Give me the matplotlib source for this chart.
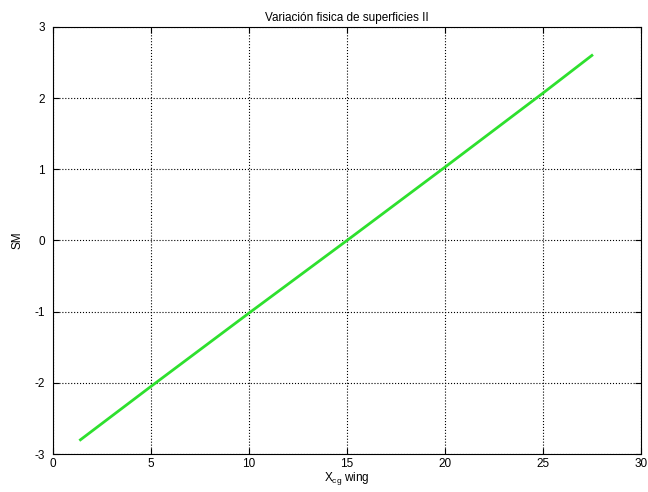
import numpy as np
import matplotlib
matplotlib.use('Agg')
import matplotlib.pyplot as plt

# valores
x_cg = [1.4, 5, 10, 15, 20, 25, 27.5]
sm = [-2.8, -2.05, -1.02, 0.0, 1.03, 2.07, 2.6]

plt.rcParams['font.family'] = ['Liberation Sans', 'DejaVu Sans']
plt.rcParams['font.size'] = 8.5
plt.rcParams['axes.unicode_minus'] = False
plt.rcParams['mathtext.fontset'] = 'custom'
plt.rcParams['mathtext.rm'] = 'Liberation Sans'

fig = plt.figure(figsize=(6.48, 4.92), dpi=100)
ax = fig.add_axes([0.0818, 0.0772, 0.9072, 0.868])

ax.plot(x_cg, sm, color='#2ee02e', linewidth=2)

ax.set_xlim(0, 30)
ax.set_ylim(-3, 3)
ax.set_xticks(np.arange(0, 31, 5))
ax.set_yticks(np.arange(-3, 4, 1))
ax.grid(True, linestyle=':', color='black', linewidth=0.8)
ax.tick_params(direction='in', top=True, right=True, length=4, pad=3)
ax.tick_params(axis='y', pad=6)
for s in ax.spines.values():
    s.set_linewidth(0.8)

ax.set_title('Variación fisica de superficies II', fontsize=8.5, pad=4)
ax.set_xlabel('X$_{\\mathrm{cg}}$ wing', labelpad=0)
ax.set_ylabel('SM', labelpad=8)

fig.savefig('out.png', dpi=100)
